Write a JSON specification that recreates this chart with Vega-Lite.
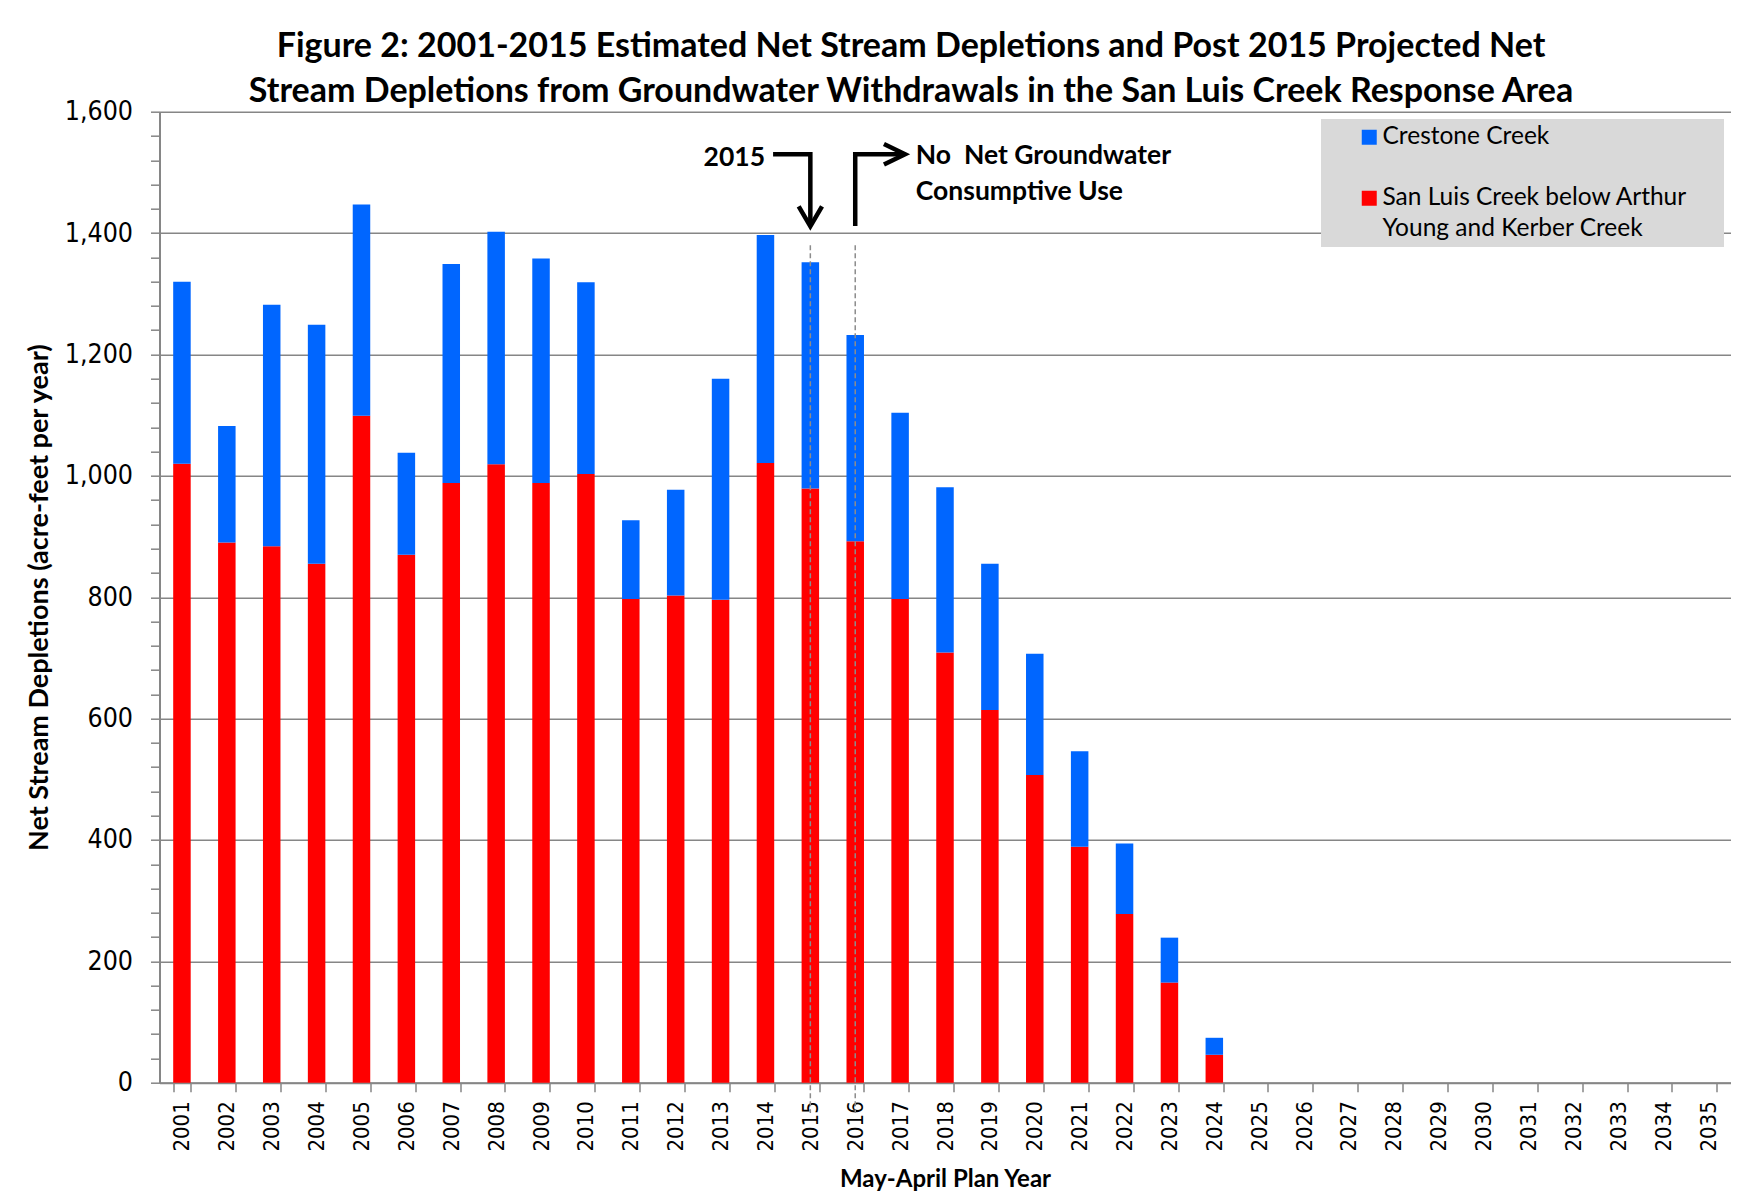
{
  "$schema": "https://vega.github.io/schema/vega-lite/v6.json",
  "width": 1571,
  "height": 971,
  "autosize": {"type": "none"},
  "padding": {"left": 159.5, "top": 111.7, "right": 26.5, "bottom": 115.3},
  "background": "white",
  "config": {
    "font": "Lato",
    "view": {"stroke": null},
    "axis": {"domainColor": "#868686", "domainWidth": 2, "tickColor": "#868686", "tickWidth": 1.5, "labelColor": "black", "titleColor": "black"},
    "style": {"guide-label": {"lineHeight": 31}}
  },
  "title": {
    "text": ["Figure 2: 2001-2015 Estimated Net Stream Depletions and Post 2015 Projected Net", "Stream Depletions from Groundwater Withdrawals in the San Luis Creek Response Area"],
    "font": "Lato", "fontSize": 34, "fontWeight": "bold", "color": "black",
    "lineHeight": 45, "anchor": "middle", "frame": "group", "offset": -10.5, "dx": -34
  },
  "datasets": {
    "depletions": [
      {"year": "2001", "series": "San Luis Creek below Arthur Young and Kerber Creek", "value": 1020}, {"year": "2001", "series": "Crestone Creek", "value": 300},
      {"year": "2002", "series": "San Luis Creek below Arthur Young and Kerber Creek", "value": 890}, {"year": "2002", "series": "Crestone Creek", "value": 192},
      {"year": "2003", "series": "San Luis Creek below Arthur Young and Kerber Creek", "value": 884}, {"year": "2003", "series": "Crestone Creek", "value": 398},
      {"year": "2004", "series": "San Luis Creek below Arthur Young and Kerber Creek", "value": 855}, {"year": "2004", "series": "Crestone Creek", "value": 394},
      {"year": "2005", "series": "San Luis Creek below Arthur Young and Kerber Creek", "value": 1099}, {"year": "2005", "series": "Crestone Creek", "value": 348},
      {"year": "2006", "series": "San Luis Creek below Arthur Young and Kerber Creek", "value": 870}, {"year": "2006", "series": "Crestone Creek", "value": 168},
      {"year": "2007", "series": "San Luis Creek below Arthur Young and Kerber Creek", "value": 988}, {"year": "2007", "series": "Crestone Creek", "value": 361},
      {"year": "2008", "series": "San Luis Creek below Arthur Young and Kerber Creek", "value": 1019}, {"year": "2008", "series": "Crestone Creek", "value": 383},
      {"year": "2009", "series": "San Luis Creek below Arthur Young and Kerber Creek", "value": 988}, {"year": "2009", "series": "Crestone Creek", "value": 370},
      {"year": "2010", "series": "San Luis Creek below Arthur Young and Kerber Creek", "value": 1003}, {"year": "2010", "series": "Crestone Creek", "value": 316},
      {"year": "2011", "series": "San Luis Creek below Arthur Young and Kerber Creek", "value": 797}, {"year": "2011", "series": "Crestone Creek", "value": 130},
      {"year": "2012", "series": "San Luis Creek below Arthur Young and Kerber Creek", "value": 803}, {"year": "2012", "series": "Crestone Creek", "value": 174},
      {"year": "2013", "series": "San Luis Creek below Arthur Young and Kerber Creek", "value": 796}, {"year": "2013", "series": "Crestone Creek", "value": 364},
      {"year": "2014", "series": "San Luis Creek below Arthur Young and Kerber Creek", "value": 1021}, {"year": "2014", "series": "Crestone Creek", "value": 376},
      {"year": "2015", "series": "San Luis Creek below Arthur Young and Kerber Creek", "value": 979}, {"year": "2015", "series": "Crestone Creek", "value": 373},
      {"year": "2016", "series": "San Luis Creek below Arthur Young and Kerber Creek", "value": 892}, {"year": "2016", "series": "Crestone Creek", "value": 340},
      {"year": "2017", "series": "San Luis Creek below Arthur Young and Kerber Creek", "value": 797}, {"year": "2017", "series": "Crestone Creek", "value": 307},
      {"year": "2018", "series": "San Luis Creek below Arthur Young and Kerber Creek", "value": 709}, {"year": "2018", "series": "Crestone Creek", "value": 272},
      {"year": "2019", "series": "San Luis Creek below Arthur Young and Kerber Creek", "value": 614}, {"year": "2019", "series": "Crestone Creek", "value": 241},
      {"year": "2020", "series": "San Luis Creek below Arthur Young and Kerber Creek", "value": 507}, {"year": "2020", "series": "Crestone Creek", "value": 200},
      {"year": "2021", "series": "San Luis Creek below Arthur Young and Kerber Creek", "value": 389}, {"year": "2021", "series": "Crestone Creek", "value": 157},
      {"year": "2022", "series": "San Luis Creek below Arthur Young and Kerber Creek", "value": 278}, {"year": "2022", "series": "Crestone Creek", "value": 116},
      {"year": "2023", "series": "San Luis Creek below Arthur Young and Kerber Creek", "value": 165}, {"year": "2023", "series": "Crestone Creek", "value": 74},
      {"year": "2024", "series": "San Luis Creek below Arthur Young and Kerber Creek", "value": 46}, {"year": "2024", "series": "Crestone Creek", "value": 28},
      {"year": "2025", "series": "San Luis Creek below Arthur Young and Kerber Creek", "value": 0}, {"year": "2025", "series": "Crestone Creek", "value": 0},
      {"year": "2026", "series": "San Luis Creek below Arthur Young and Kerber Creek", "value": 0}, {"year": "2026", "series": "Crestone Creek", "value": 0},
      {"year": "2027", "series": "San Luis Creek below Arthur Young and Kerber Creek", "value": 0}, {"year": "2027", "series": "Crestone Creek", "value": 0},
      {"year": "2028", "series": "San Luis Creek below Arthur Young and Kerber Creek", "value": 0}, {"year": "2028", "series": "Crestone Creek", "value": 0},
      {"year": "2029", "series": "San Luis Creek below Arthur Young and Kerber Creek", "value": 0}, {"year": "2029", "series": "Crestone Creek", "value": 0},
      {"year": "2030", "series": "San Luis Creek below Arthur Young and Kerber Creek", "value": 0}, {"year": "2030", "series": "Crestone Creek", "value": 0},
      {"year": "2031", "series": "San Luis Creek below Arthur Young and Kerber Creek", "value": 0}, {"year": "2031", "series": "Crestone Creek", "value": 0},
      {"year": "2032", "series": "San Luis Creek below Arthur Young and Kerber Creek", "value": 0}, {"year": "2032", "series": "Crestone Creek", "value": 0},
      {"year": "2033", "series": "San Luis Creek below Arthur Young and Kerber Creek", "value": 0}, {"year": "2033", "series": "Crestone Creek", "value": 0},
      {"year": "2034", "series": "San Luis Creek below Arthur Young and Kerber Creek", "value": 0}, {"year": "2034", "series": "Crestone Creek", "value": 0},
      {"year": "2035", "series": "San Luis Creek below Arthur Young and Kerber Creek", "value": 0}, {"year": "2035", "series": "Crestone Creek", "value": 0}
    ],
    "markers": [
      {"x": 2015, "value": 1380, "bottom": -50},
      {"x": 2016, "value": 1380, "bottom": -50}
    ],
    "arrows": [
      {"part": "shaft1", "step": 1, "x": 2014.17, "value": 1529.8},
      {"part": "shaft1", "step": 2, "x": 2015, "value": 1529.8},
      {"part": "shaft1", "step": 3, "x": 2015, "value": 1414},
      {"part": "head1", "step": 1, "x": 2014.74, "value": 1444},
      {"part": "head1", "step": 2, "x": 2015, "value": 1411},
      {"part": "head1", "step": 3, "x": 2015.26, "value": 1444},
      {"part": "shaft2", "step": 1, "x": 2016, "value": 1411.7},
      {"part": "shaft2", "step": 2, "x": 2016, "value": 1529.8},
      {"part": "shaft2", "step": 3, "x": 2017.07, "value": 1529.8},
      {"part": "head2", "step": 1, "x": 2016.64, "value": 1546.7},
      {"part": "head2", "step": 2, "x": 2017.11, "value": 1529.8},
      {"part": "head2", "step": 3, "x": 2016.64, "value": 1512.9}
    ],
    "notes": [
      {"x": 2013.99, "value": 1511, "text": "2015", "side": "left"},
      {"x": 2017.35, "value": 1513.3, "text": "No\u00a0 Net Groundwater", "side": "right"},
      {"x": 2017.35, "value": 1454.5, "text": "Consumptive Use", "side": "right"}
    ]
  },
  "encoding": {
    "y": {
      "field": "value", "type": "quantitative",
      "title": "Net Stream Depletions (acre-feet per year)",
      "scale": {"domain": [0, 1600], "nice": false},
      "axis": {
        "titleFont": "Lato", "titleFontSize": 27, "titleFontWeight": "bold", "titlePadding": 11,
        "values": [0, 40, 80, 120, 160, 200, 240, 280, 320, 360, 400, 440, 480, 520, 560, 600, 640, 680, 720, 760, 800, 840, 880, 920, 960, 1000, 1040, 1080, 1120, 1160, 1200, 1240, 1280, 1320, 1360, 1400, 1440, 1480, 1520, 1560, 1600],
        "labelExpr": "datum.value % 200 == 0 ? format(datum.value, ',') : ''",
        "labelFont": "DejaVu Sans Condensed", "labelFontSize": 26.5, "labelPadding": 18,
        "tickSize": 9,
        "grid": true, "gridColor": "#868686", "gridWidth": 1.5,
        "gridOpacity": {"condition": {"test": "datum.value % 200 == 0", "value": 1}, "value": 0}
      }
    }
  },
  "layer": [
    {
      "data": {"name": "depletions"},
      "mark": {"type": "bar"},
      "encoding": {
        "x": {
          "field": "year", "type": "nominal", "sort": null,
          "scale": {"paddingInner": 0.61, "paddingOuter": 0.305},
          "axis": {
            "title": "May-April Plan Year", "titleFont": "Lato", "titleFontSize": 24, "titleFontWeight": "bold", "titlePadding": 16,
            "labelAngle": -90, "labelFont": "DejaVu Sans Condensed", "labelFontSize": 22, "labelPadding": 9,
            "tickBand": "extent", "tickSize": 9, "grid": false
          }
        },
        "y": {
          "field": "value", "type": "quantitative", "stack": "zero",
          "title": "Net Stream Depletions (acre-feet per year)",
          "scale": {"domain": [0, 1600], "nice": false},
          "axis": {
            "titleFont": "Lato", "titleFontSize": 27, "titleFontWeight": "bold", "titlePadding": 11,
            "values": [0, 40, 80, 120, 160, 200, 240, 280, 320, 360, 400, 440, 480, 520, 560, 600, 640, 680, 720, 760, 800, 840, 880, 920, 960, 1000, 1040, 1080, 1120, 1160, 1200, 1240, 1280, 1320, 1360, 1400, 1440, 1480, 1520, 1560, 1600],
            "labelExpr": "datum.value % 200 == 0 ? format(datum.value, ',') : ''",
            "labelFont": "DejaVu Sans Condensed", "labelFontSize": 26.5, "labelPadding": 18,
            "tickSize": 9,
            "grid": true, "gridColor": "#868686", "gridWidth": 1.5,
            "gridOpacity": {"condition": {"test": "datum.value % 200 == 0", "value": 1}, "value": 0}
          }
        },
        "color": {
          "field": "series", "type": "nominal",
          "scale": {"domain": ["Crestone Creek", "San Luis Creek below Arthur Young and Kerber Creek"], "range": ["#0066FF", "#FF0000"]},
          "legend": {
            "title": "\u00a0", "titleOrient": "right", "titlePadding": 31, "titleFontSize": 10,
            "orient": "none", "legendX": 1161.5, "legendY": 7.3,
            "fillColor": "#D9D9D9", "padding": 6, "symbolType": "square", "symbolSize": 225, "symbolStrokeWidth": 0,
            "symbolOffset": 30, "labelOffset": 1, "labelFont": "Lato", "labelFontSize": 24.5, "labelColor": "black", "labelLimit": 600,
            "rowPadding": 36, "labelBaseline": "middle",
            "labelExpr": "datum.label == 'Crestone Creek' ? datum.label : ['San Luis Creek below Arthur', 'Young and Kerber Creek']"
          }
        },
        "order": {"field": "series", "sort": "descending"}
      }
    },
    {
      "data": {"name": "markers"},
      "mark": {"type": "rule", "color": "#8C8C8C", "strokeWidth": 1.5, "strokeDash": [5, 3]},
      "encoding": {
        "x": {"field": "x", "type": "quantitative", "scale": {"domain": [2000.5, 2035.5], "nice": false, "zero": false}, "axis": null},
        "y2": {"field": "bottom"}
      }
    },
    {
      "data": {"name": "arrows"},
      "mark": {"type": "line", "color": "black", "strokeWidth": 4.5, "strokeJoin": "miter", "strokeCap": "butt"},
      "encoding": {
        "x": {"field": "x", "type": "quantitative", "scale": {"domain": [2000.5, 2035.5], "nice": false, "zero": false}, "axis": null},
        "detail": {"field": "part"},
        "order": {"field": "step"}
      }
    },
    {
      "data": {"name": "notes"},
      "transform": [{"filter": "datum.side == 'left'"}],
      "mark": {"type": "text", "align": "right", "baseline": "alphabetic", "font": "Lato", "fontWeight": "bold", "fontSize": 26.5, "color": "black"},
      "encoding": {
        "x": {"field": "x", "type": "quantitative", "scale": {"domain": [2000.5, 2035.5], "nice": false, "zero": false}, "axis": null},
        "text": {"field": "text"}
      }
    },
    {
      "data": {"name": "notes"},
      "transform": [{"filter": "datum.side == 'right'"}],
      "mark": {"type": "text", "align": "left", "baseline": "alphabetic", "font": "Lato", "fontWeight": "bold", "fontSize": 26.5, "color": "black"},
      "encoding": {
        "x": {"field": "x", "type": "quantitative", "scale": {"domain": [2000.5, 2035.5], "nice": false, "zero": false}, "axis": null},
        "text": {"field": "text"}
      }
    }
  ],
  "resolve": {"scale": {"x": "independent"}, "axis": {"x": "independent"}}
}
